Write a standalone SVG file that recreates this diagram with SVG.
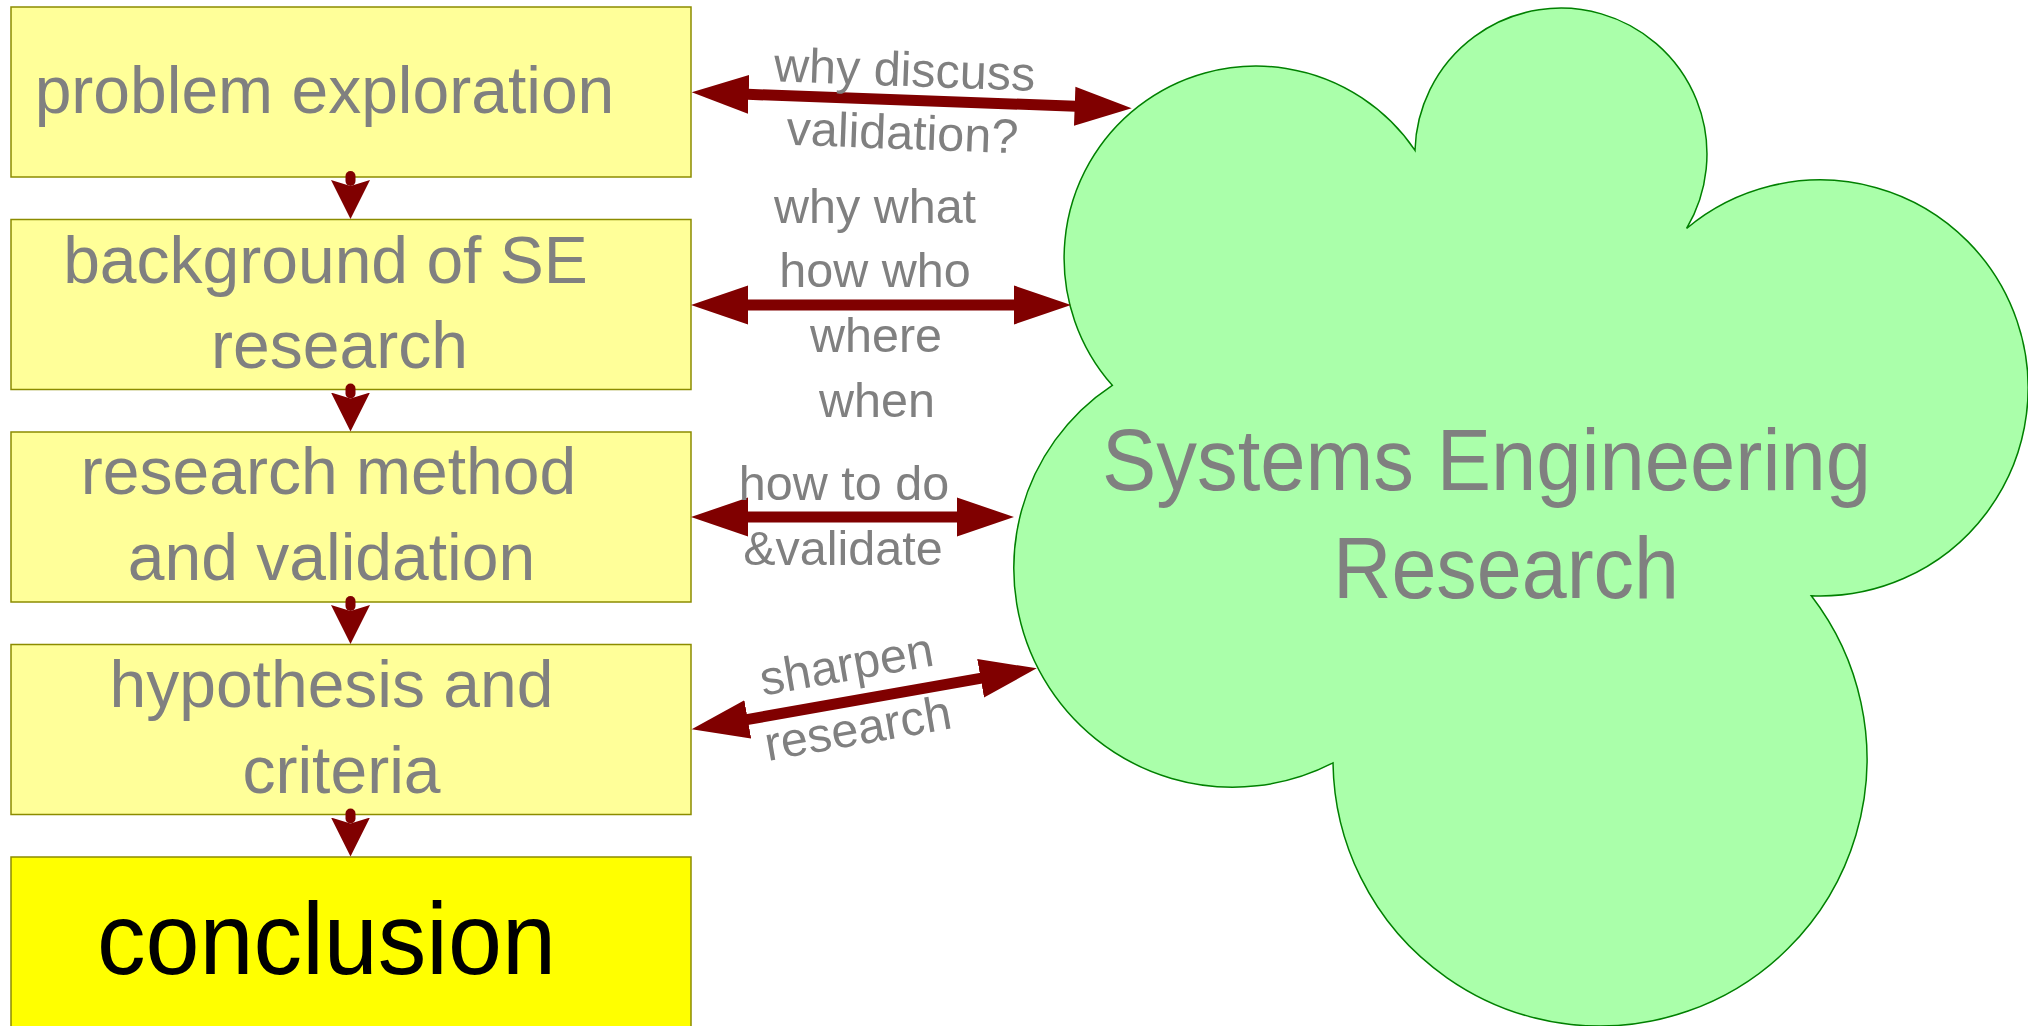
<svg xmlns="http://www.w3.org/2000/svg" width="2028" height="1026" viewBox="0 0 2028 1026">
<style>
.box{fill:#ffff99;stroke:#8c8c00;stroke-width:1.5}
.box5{fill:#ffff00;stroke:#8c8c00;stroke-width:1.5}
.t{font-family:"Liberation Sans",Arial,sans-serif;fill:#808080;text-anchor:middle}
.bt{font-size:66px}
.lt{font-size:48.5px}
.conn{stroke:#800000;stroke-width:11;fill:none}
.down{stroke:#800000;stroke-width:10;stroke-linecap:round;fill:none}
</style>
<defs>
<marker id="ah" markerUnits="userSpaceOnUse" viewBox="0 -20 60 40" markerWidth="60" markerHeight="40" refX="1" refY="0" orient="auto-start-reverse">
<path d="M0,-19.5 L57,0 L0,19.5 Z" fill="#800000"/>
</marker>
<marker id="dh" markerUnits="userSpaceOnUse" viewBox="0 -20 40 40" markerWidth="40" markerHeight="40" refX="1" refY="0" orient="auto">
<path d="M0,-19.5 L39,0 L0,19.5 L6,0 Z" fill="#800000"/>
</marker>
</defs>
<rect width="2028" height="1026" fill="#ffffff"/>
<g id="cloud">
<path d="M1415,150.3 A146,146 0 1 1 1686.6,228.5 A208,208 0 1 1 1811.3,595.8 A267,267 0 1 1 1333,762.9 A219,219 0 0 1 1112.3,385.3 A192,192 0 1 1 1415,150.3 Z" fill="#aaffaa" stroke="#008000" stroke-width="1.5"/>
<text class="t" x="1486.5" y="490" font-size="88" textLength="769" lengthAdjust="spacingAndGlyphs">Systems Engineering</text>
<text class="t" x="1506" y="598" font-size="88" textLength="346" lengthAdjust="spacingAndGlyphs">Research</text>
</g>
<g id="n1">
<rect class="box" x="11" y="7" width="680" height="170"/>
<text class="t bt" x="324.5" y="113">problem exploration</text>
</g>
<g id="n2">
<rect class="box" x="11" y="219.5" width="680" height="170"/>
<text class="t bt" x="325.5" y="283">background of SE</text>
<text class="t bt" x="339.5" y="368">research</text>
</g>
<g id="n3">
<rect class="box" x="11" y="432" width="680" height="170"/>
<text class="t bt" x="328.5" y="494">research method</text>
<text class="t bt" x="331.5" y="580">and validation</text>
</g>
<g id="n4">
<rect class="box" x="11" y="644.5" width="680" height="170"/>
<text class="t bt" x="331.5" y="707">hypothesis and</text>
<text class="t bt" x="341.5" y="793">criteria</text>
</g>
<g id="n5">
<rect class="box5" x="11" y="857" width="680" height="180"/>
<text x="326.5" y="973.5" font-family="Liberation Sans, Arial, sans-serif" font-size="102" fill="#000000" text-anchor="middle" textLength="459" lengthAdjust="spacingAndGlyphs">conclusion</text>
</g>
<g id="connectors">
<line class="down" x1="350.5" y1="176" x2="350.5" y2="181" marker-end="url(#dh)"/>
<line class="down" x1="350.5" y1="388.5" x2="350.5" y2="393.5" marker-end="url(#dh)"/>
<line class="down" x1="350.5" y1="601" x2="350.5" y2="606" marker-end="url(#dh)"/>
<line class="down" x1="350.5" y1="813.5" x2="350.5" y2="818.5" marker-end="url(#dh)"/>
<line class="conn" x1="747.7" y1="94.3" x2="1075.7" y2="106.3" marker-start="url(#ah)" marker-end="url(#ah)"/>
<line class="conn" x1="747" y1="305" x2="1015" y2="305" marker-start="url(#ah)" marker-end="url(#ah)"/>
<line class="conn" x1="747" y1="517" x2="958" y2="517" marker-start="url(#ah)" marker-end="url(#ah)"/>
<line class="conn" x1="746.8" y1="719.6" x2="981.6" y2="678.1" marker-start="url(#ah)" marker-end="url(#ah)"/>
<g transform="rotate(2.1 903 117)">
<text class="t lt" x="903" y="86">why discuss</text>
<text class="t lt" x="903" y="149">validation?</text>
</g>
<text class="t lt" x="875" y="223">why what</text>
<text class="t lt" x="875" y="287">how who</text>
<text class="t lt" x="876" y="352">where</text>
<text class="t lt" x="877" y="417">when</text>
<text class="t lt" x="844" y="500">how to do</text>
<text class="t lt" x="843" y="565">&amp;validate</text>
<g transform="rotate(-10 855 713)">
<text class="t lt" x="855" y="680">sharpen</text>
<text class="t lt" x="855" y="745">research</text>
</g>
</g>
</svg>
